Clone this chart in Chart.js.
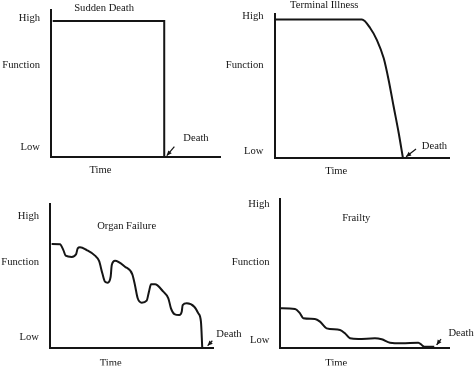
<!DOCTYPE html>
<html>
<head>
<meta charset="utf-8">
<script src="https://cdn.jsdelivr.net/npm/chart.js@4.4.1/dist/chart.umd.min.js"></script>
<style>
  html, body { margin: 0; padding: 0; background: #ffffff; }
  #wrap { position: relative; width: 474px; height: 367px; overflow: hidden; }
  #wrap canvas { position: absolute; left: 0; top: 0; }
</style>
</head>
<body>
<div id="wrap">
  <canvas id="c1" width="474" height="367"></canvas>
  <canvas id="c2" width="474" height="367"></canvas>
  <canvas id="c3" width="474" height="367"></canvas>
  <canvas id="c4" width="474" height="367"></canvas>
</div>
<script>
// ---------- DATA ----------
const panelTitles = ['Sudden Death', 'Terminal Illness', 'Organ Failure', 'Frailty'];
const yTickLabels = ['Low', 'Function', 'High'];
const xTickLabels = ['Time'];
const deathLabel = 'Death';

// Function (0 = low, 100 = high) over time (0..100)
const suddenDeathX = [1, 67, 67];
const suddenDeathY = [92.5, 92.5, 0];

const terminalIllnessX = [0.8, 50.1, 54.9, 58.7, 62.6, 65.4, 68.3, 71.2, 73.6];
const terminalIllnessY = [96.2, 96.2, 90.1, 81.9, 69.2, 54.2, 35.6, 17.2, 0];

const organFailureX = [1.0, 6.1, 8.2, 9.6, 13.3, 16.0, 17.0, 18.4, 22.5, 27.6, 30.1, 32.1, 33.7, 35.4, 37.2, 37.9, 39.9, 46.0, 50.5, 52.1, 53.8, 56.3, 59.3, 60.7, 62.0, 64.4, 69.5, 72.6, 74.2, 76.3, 79.3, 80.8, 81.4, 83.9, 88.5, 91.0, 92.6, 93.4];
const organFailureY = [72.1, 71.9, 67.9, 64.0, 63.1, 64.9, 69.1, 69.8, 67.9, 64.0, 60.3, 51.7, 45.9, 45.2, 49.3, 57.5, 60.5, 56.3, 51.0, 43.6, 34.3, 31.2, 32.6, 38.9, 44.0, 44.0, 38.9, 34.3, 27.3, 23.3, 22.6, 24.9, 29.6, 30.8, 28.4, 23.8, 18.0, 0];

const frailtyX = [0.3, 9.1, 12.1, 14.0, 20.9, 23.9, 27.8, 35.7, 38.6, 41.6, 46.5, 56.3, 60.3, 65.2, 72.1, 81.9, 83.9, 85.4, 91.3];
const frailtyY = [26.4, 25.9, 23.0, 19.7, 19.2, 17.4, 12.9, 11.8, 9.6, 6.2, 5.7, 6.2, 5.5, 3.2, 2.8, 3.2, 1.7, 0.5, 0.5];

// ---------- LAYOUT (positions in scale units / pixels) ----------
const panels = [
  { id: 'c1', xs: suddenDeathX, ys: suddenDeathY, smooth: false,
    pad: { left: 1, top: 10, right: 254, bottom: 192 },
    yTicks: [6.8, 62.6, 94.6], yPad: 11, xTick: 29.3, xPad: 6.4,
    title: [31.4, 101.4], death: [85.8, 13.1], arrow: [73, 7.0, 68.5, 0.9] },
  { id: 'c2', xs: terminalIllnessX, ys: terminalIllnessY, smooth: true,
    pad: { left: 224.5, top: 14, right: 25, bottom: 191 },
    yTicks: [4.4, 64.6, 98.6], yPad: 11, xTick: 35.4, xPad: 6.4,
    title: [28.5, 106.3], death: [91.7, 8.5], arrow: [81.1, 6.25, 75.4, 0.9] },
  { id: 'c3', xs: organFailureX, ys: organFailureY, smooth: true,
    pad: { left: 0, top: 204, right: 261, bottom: 1.5 },
    yTicks: [7.5, 59.1, 91.8], yPad: 11, xTick: 37.2, xPad: 8.9,
    title: [47.0, 84.2], death: [109.8, 9.4], arrow: [99.6, 4.7, 96.7, 1.3] },
  { id: 'c4', xs: frailtyX, ys: frailtyY, smooth: true,
    pad: { left: 229.5, top: 199, right: 25, bottom: 1.5 },
    yTicks: [5.1, 57.4, 96.2], yPad: 10, xTick: 33.5, xPad: 8.9,
    title: [45.3, 87.2], death: [107.1, 9.8], arrow: [95.3, 5.7, 92.7, 1.7] }
];

const FONT_FAMILY = "'Liberation Serif', 'DejaVu Serif', serif";
const FONT_SIZE = 10.6;
const INK = '#151515';

const annotPlugin = {
  id: 'annot',
  afterDatasetsDraw(chart, args, opts) {
    const ctx = chart.ctx;
    const xs = chart.scales.x, ys = chart.scales.y;
    ctx.save();
    ctx.font = FONT_SIZE + 'px ' + FONT_FAMILY;
    ctx.fillStyle = INK;
    ctx.textAlign = 'center';
    ctx.textBaseline = 'middle';
    (opts.texts || []).forEach(t => {
      ctx.fillText(t.text, xs.getPixelForValue(t.x), ys.getPixelForValue(t.y));
    });
    (opts.arrows || []).forEach(a => {
      const x1 = xs.getPixelForValue(a[0]), y1 = ys.getPixelForValue(a[1]);
      const x2 = xs.getPixelForValue(a[2]), y2 = ys.getPixelForValue(a[3]);
      ctx.strokeStyle = INK;
      ctx.lineWidth = 1.2;
      ctx.beginPath();
      ctx.moveTo(x1, y1);
      ctx.lineTo(x2, y2);
      ctx.stroke();
      const ang = Math.atan2(y2 - y1, x2 - x1);
      const L = 5, W = 2.3;
      ctx.beginPath();
      ctx.moveTo(x2, y2);
      ctx.lineTo(x2 - L * Math.cos(ang) + W * Math.sin(ang), y2 - L * Math.sin(ang) - W * Math.cos(ang));
      ctx.lineTo(x2 - L * Math.cos(ang) - W * Math.sin(ang), y2 - L * Math.sin(ang) + W * Math.cos(ang));
      ctx.closePath();
      ctx.fillStyle = INK;
      ctx.fill();
    });
    ctx.restore();
  }
};

panels.forEach((p, i) => {
  const pts = p.xs.map((x, k) => ({ x: x, y: p.ys[k] }));
  new Chart(document.getElementById(p.id), {
    type: 'line',
    data: {
      datasets: [{
        data: pts,
        borderColor: INK,
        borderWidth: 2,
        pointRadius: 0,
        fill: false,
        clip: false,
        tension: p.smooth ? 0.4 : 0,
        cubicInterpolationMode: p.smooth ? 'monotone' : 'default'
      }]
    },
    options: {
      responsive: false,
      devicePixelRatio: 1,
      animation: false,
      events: [],
      layout: { padding: p.pad },
      plugins: {
        legend: { display: false },
        tooltip: { enabled: false },
        title: { display: false },
        annot: {
          texts: [
            { text: panelTitles[i], x: p.title[0], y: p.title[1] },
            { text: deathLabel, x: p.death[0], y: p.death[1] }
          ],
          arrows: [p.arrow]
        }
      },
      scales: {
        x: {
          type: 'linear', min: 0, max: 100,
          grid: { display: false, drawTicks: false },
          border: { display: true, color: INK, width: 2 },
          afterBuildTicks: s => { s.ticks = [{ value: p.xTick }]; },
          afterFit: s => { s.height = 18; s.paddingLeft = 0; s.paddingRight = 0; s.paddingTop = 0; s.paddingBottom = 0; },
          ticks: {
            autoSkip: false, maxRotation: 0, padding: p.xPad, color: INK,
            font: { family: FONT_FAMILY, size: FONT_SIZE },
            callback: (v, idx) => xTickLabels[idx]
          }
        },
        y: {
          type: 'linear', min: 0, max: 100,
          grid: { display: false, drawTicks: false },
          border: { display: true, color: INK, width: 2 },
          afterBuildTicks: s => { s.ticks = p.yTicks.map(v => ({ value: v })); },
          afterFit: s => { s.width = 50; s.paddingLeft = 0; s.paddingRight = 0; s.paddingTop = 0; s.paddingBottom = 0; },
          ticks: {
            autoSkip: false, padding: p.yPad, color: INK,
            font: { family: FONT_FAMILY, size: FONT_SIZE },
            callback: (v, idx) => yTickLabels[idx]
          }
        }
      }
    },
    plugins: [annotPlugin]
  });
});
</script>
</body>
</html>
